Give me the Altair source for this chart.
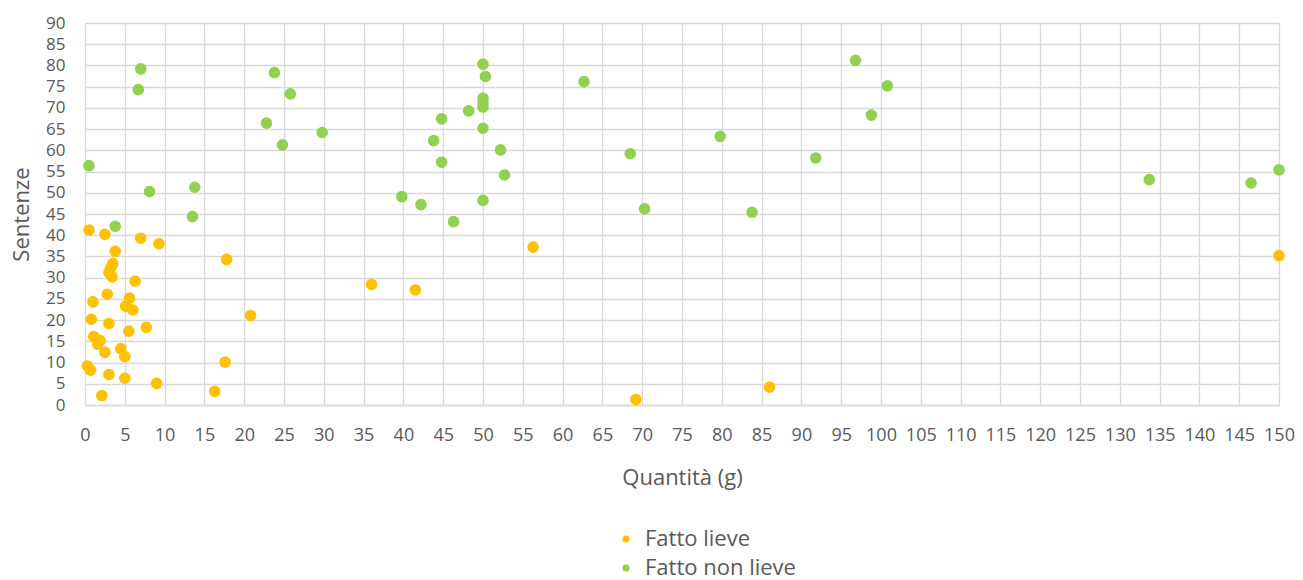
import altair as alt
import pandas as pd

# Fatto lieve (orange)
lieve_x = [0.5, 2.5, 7, 9.3, 3.8, 17.8, 3.5, 3.2, 3.0, 3.4, 6.3, 2.8, 1.0, 5.6, 5.1, 6.0,
           20.8, 0.8, 3.0, 7.7, 5.5, 1.1, 1.9, 1.6, 2.5, 4.5, 5.0, 17.6, 0.3, 0.7, 3.0, 5.0,
           9.0, 16.3, 2.1, 56.3, 36.0, 41.5, 69.2, 150, 86.0]
lieve_y = [41.2, 40.2, 39.3, 38.0, 36.2, 34.3, 33.3, 32.2, 31.2, 30.2, 29.2, 26.1, 24.3, 25.2, 23.3, 22.4,
           21.1, 20.2, 19.2, 18.3, 17.4, 16.1, 15.2, 14.3, 12.4, 13.3, 11.4, 10.1, 9.2, 8.2, 7.2, 6.3,
           5.1, 3.2, 2.2, 37.2, 28.4, 27.1, 1.3, 35.2, 4.2]

# Fatto non lieve (green)
nonlieve_x = [7.0, 6.7, 23.8, 25.8, 22.8, 29.8, 24.8, 0.5, 8.1, 13.8, 13.5, 3.8,
              50.0, 50.3, 62.7, 50.0, 50.0, 50.0, 48.2, 44.8, 50.0, 43.8, 52.2, 68.5, 44.8, 52.7,
              39.8, 42.2, 50.0, 70.3, 46.3,
              96.8, 100.8, 98.8, 79.8, 91.8, 83.8, 133.7, 146.5, 150]
nonlieve_y = [79.2, 74.3, 78.3, 73.3, 66.4, 64.2, 61.3, 56.4, 50.3, 51.3, 44.4, 42.1,
              80.3, 77.4, 76.2, 72.3, 71.2, 70.2, 69.3, 67.4, 65.2, 62.3, 60.1, 59.2, 57.2, 54.2,
              49.1, 47.2, 48.2, 46.2, 43.2,
              81.2, 75.2, 68.3, 63.3, 58.2, 45.4, 53.1, 52.3, 55.4]

series = ["Fatto lieve", "Fatto non lieve"]
colors = ["#FFC000", "#92D050"]

df = pd.concat([
    pd.DataFrame({"q": lieve_x, "s": lieve_y, "tipo": series[0]}),
    pd.DataFrame({"q": nonlieve_x, "s": nonlieve_y, "tipo": series[1]}),
])

FONT = "Open Sans"
GREY = "#595959"

chart = alt.Chart(df).mark_circle(size=135, opacity=1).encode(
    x=alt.X("q:Q", title="Quantità (g)",
            scale=alt.Scale(domain=[0, 150], nice=False),
            axis=alt.Axis(values=list(range(0, 151, 5)), labelFontSize=18, labelColor=GREY,
                          labelPadding=21, ticks=False, domainColor="#D9D9D9", domainWidth=1.5,
                          gridColor="#D9D9D9", gridWidth=1.3, labelFlush=False,
                          labelOverlap=False, titleFontSize=22, titleFontWeight="normal",
                          titleColor=GREY, titleY=72, titleBaseline="middle")),
    y=alt.Y("s:Q", title="Sentenze",
            scale=alt.Scale(domain=[0, 90], nice=False),
            axis=alt.Axis(values=list(range(0, 91, 5)), labelFontSize=17, labelColor=GREY,
                          labelPadding=20, ticks=False, domain=False,
                          gridColor="#D9D9D9", gridWidth=1.3, labelOverlap=False,
                          titleFontSize=22, titleFontWeight="normal", titleColor=GREY,
                          titleX=-64, titleBaseline="middle")),
    color=alt.Color("tipo:N", scale=alt.Scale(domain=series, range=colors),
                    legend=alt.Legend(title=None, orient="none", legendX=530, legendY=505,
                                      direction="vertical", symbolType="circle", symbolSize=50,
                                      labelFontSize=22, labelColor=GREY, labelOffset=8,
                                      rowPadding=7, padding=0)),
).properties(
    width=1194, height=382,
    padding={"left": 77, "top": 15, "right": 16, "bottom": 175},
    autosize=alt.AutoSizeParams(type="none"),
).configure(font=FONT).configure_view(stroke=None)

chart.save("out.html", embed_options={"renderer": "svg", "actions": False})
